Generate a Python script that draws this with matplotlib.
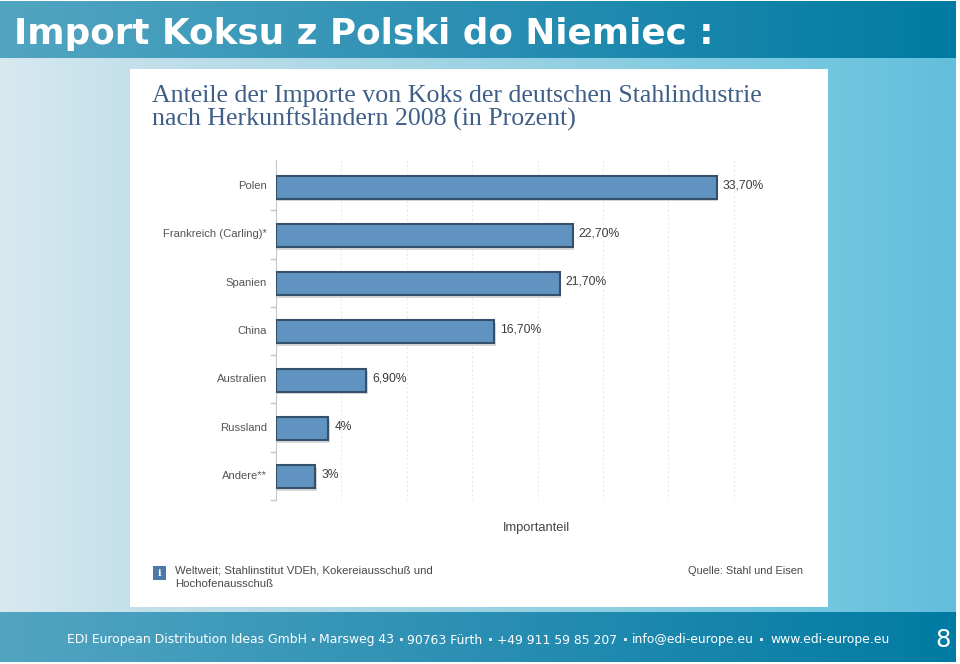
import numpy as np
import matplotlib
matplotlib.use("Agg")
import matplotlib.pyplot as plt
from matplotlib.patches import Rectangle

W, H = 960, 664
countries = ["Polen", "Frankreich (Carling)*", "Spanien", "China", "Australien", "Russland", "Andere**"]
shares = [33.7, 22.7, 21.7, 16.7, 6.9, 4.0, 3.0]
value_labels = ["33,70%", "22,70%", "21,70%", "16,70%", "6,90%", "4%", "3%"]
grid_ticks = [0, 5, 10, 15, 20, 25, 30, 35, 40]
slide_title = "Import Koksu z Polski do Niemiec :"
chart_title = ["Anteile der Importe von Koks der deutschen Stahlindustrie",
               "nach Herkunftsländern 2008 (in Prozent)"]
axis_title = "Importanteil"
note_text = "Weltweit; Stahlinstitut VDEh, Kokereiausschuß und\nHochofenausschuß"
source_text = "Quelle: Stahl und Eisen"
footer_parts = ["EDI European Distribution Ideas GmbH", "Marsweg 43", "90763 Fürth",
                "+49 911 59 85 207", "info@edi-europe.eu", "www.edi-europe.eu"]
footer_x = [67, 319, 407, 497, 632, 770]
dot_x = [313, 401, 490, 625, 761]
page_number = "8"

fig = plt.figure(figsize=(W / 100, H / 100), dpi=100, facecolor="white")
bg = fig.add_axes([0, 0, 1, 1])
bg.axis("off")


def hgrad(x0, x1, y0, y1, stops, z=0):
    pos = [s[0] for s in stops]
    cols = np.array([matplotlib.colors.to_rgb(s[1]) for s in stops])
    t = np.linspace(0, 1, 480)
    img = np.stack([np.interp(t, pos, cols[:, i]) for i in range(3)], axis=1)[None, :, :]
    bg.imshow(img, extent=[x0, x1, y1, y0], aspect="auto", zorder=z, interpolation="bilinear")


body = [(0, "#d8e9ef"), (0.135, "#c4e0ea"), (0.5, "#9dd3e4"), (0.87, "#72c6df"), (1, "#62bedc")]
bar_band = [(0, "#52a5c1"), (0.5, "#2b8fb3"), (1, "#017ba3")]
hgrad(0, 956, 1, 662, body, 0)
hgrad(0, 956, 1, 58, bar_band, 1)
hgrad(0, 956, 612, 662, bar_band, 1)
bg.set_xlim(0, W); bg.set_ylim(H, 0)
bg.add_patch(Rectangle((130, 69), 698, 538, fc="white", ec="none", zorder=2))

bg.text(14, 44, slide_title, color="white", fontsize=25.75, fontweight="bold",
        family="DejaVu Sans", va="baseline", ha="left", zorder=5)
for i, line in enumerate(chart_title):
    bg.text(152, 102 + 23.5 * i, line, color="#3f5f88", fontsize=18.6,
            family="Liberation Serif", va="baseline", ha="left", zorder=5)

# Chart area: x 276..799 px spans 0..40, y 160..500 px spans the seven bands
ax = fig.add_axes([276 / W, 1 - 500 / H, (799 - 276) / W, (500 - 160) / H], facecolor="none")
ypos = np.arange(len(countries))
ax.set_xlim(0, 40)
ax.set_ylim(len(countries) - 0.5, -0.541)
ax.barh(ypos + 0.075, shares, height=0.475, left=0.1, color="#d8d8d8", edgecolor="none", zorder=2)
ax.barh(ypos + 0.02, shares, height=0.475, color="#6093bf", edgecolor="#34506b", linewidth=1.5, zorder=3)
ax.set_xticks(grid_ticks)
ax.set_xticklabels([])
ax.grid(axis="x", color="#e8eaec", linewidth=0.8, linestyle=(0, (2, 2)), zorder=0)
ax.set_yticks(np.arange(1, len(countries) + 1) - 0.5)
ax.set_yticklabels([])
ax.tick_params(axis="y", length=4, color="#c8c8c8", width=1)
ax.tick_params(axis="x", length=0)
for s in ["top", "right", "bottom"]:
    ax.spines[s].set_visible(False)
ax.spines["left"].set_color("#c8c8c8")
for y, name, v, lab in zip(ypos, countries, shares, value_labels):
    ax.annotate(name, (0, y), xytext=(-9, 0), textcoords="offset pixels", ha="right", va="center",
                fontsize=8.1, color="#555555", family="Liberation Sans", zorder=6)
    ax.annotate(lab, (v, y), xytext=(6, 1), textcoords="offset pixels", ha="left", va="center",
                fontsize=8.7, color="#3c3c3c", family="Liberation Sans", zorder=6)

bg.text(536, 528, axis_title, color="#444444", fontsize=9.3, family="Liberation Sans",
        ha="center", va="center", zorder=5)
bg.add_patch(Rectangle((153, 566), 13, 14, fc="#4a7aa5", ec="none", zorder=5))
bg.text(159.5, 573, "i", color="white", fontsize=7, fontweight="bold", family="DejaVu Serif",
        ha="center", va="center", zorder=6)
bg.text(175, 577.5, note_text, color="#484848", fontsize=8.2, family="Liberation Sans",
        ha="left", va="center", linespacing=1.45, zorder=5)
bg.text(803, 571, source_text, color="#484848", fontsize=7.9, family="Liberation Sans",
        ha="right", va="center", zorder=5)

for x, t in zip(footer_x, footer_parts):
    bg.text(x, 640, t, color="white", fontsize=8.95, family="DejaVu Sans", ha="left", va="center", zorder=5)
for x in dot_x:
    bg.add_patch(Rectangle((x - 1.5, 638), 3, 3, fc="#d5e8ef", ec="none", zorder=5))
bg.text(943, 640, page_number, color="white", fontsize=17.5, family="DejaVu Sans",
        ha="center", va="center", zorder=5)

fig.savefig("out.png", dpi=100, facecolor="white")
